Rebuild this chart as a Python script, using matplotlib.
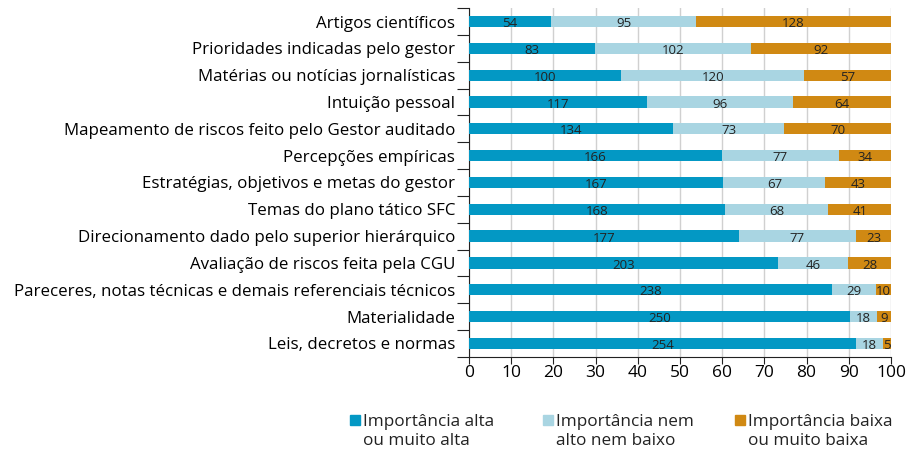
import matplotlib
matplotlib.use("Agg")
from matplotlib import pyplot as plt
from matplotlib.patches import Rectangle
import numpy as np

plt.rcParams['font.family'] = ['Open Sans', 'DejaVu Sans']

categorias = [
    "Artigos científicos",
    "Prioridades indicadas pelo gestor",
    "Matérias ou notícias jornalísticas",
    "Intuição pessoal",
    "Mapeamento de riscos feito pelo Gestor auditado",
    "Percepções empíricas",
    "Estratégias, objetivos e metas do gestor",
    "Temas do plano tático SFC",
    "Direcionamento dado pelo superior hierárquico",
    "Avaliação de riscos feita pela CGU",
    "Pareceres, notas técnicas e demais referenciais técnicos",
    "Materialidade",
    "Leis, decretos e normas",
]
alta = [54, 83, 100, 117, 134, 166, 167, 168, 177, 203, 238, 250, 254]
nem = [95, 102, 120, 96, 73, 77, 67, 68, 77, 46, 29, 18, 18]
baixa = [128, 92, 57, 64, 70, 34, 43, 41, 23, 28, 10, 9, 5]
series = [alta, nem, baixa]
nomes = ["Importância alta\nou muito alta",
         "Importância nem\nalto nem baixo",
         "Importância baixa\nou muito baixa"]
cores = ["#0398c4", "#a9d5e2", "#d08913"]

cont = np.array(series, dtype=float)
pct = cont / cont.sum(axis=0) * 100
y = np.arange(len(categorias))

fig = plt.figure(figsize=(9.11, 4.5), dpi=100)
ax = fig.add_axes([0.5148, 0.207, 0.4632, 0.775])

esq = np.zeros(len(categorias))
for k in range(3):
    ax.barh(y, pct[k], left=esq, height=0.42, color=cores[k], zorder=3)
    for i in range(len(categorias)):
        ax.text(esq[i] + pct[k][i] / 2, y[i] + 0.08, str(series[k][i]),
                ha='center', va='center', fontsize=9.5, color='#222222', zorder=4)
    esq += pct[k]

ax.set_xlim(0, 100)
ax.set_ylim(len(categorias) - 0.5, -0.5)
ax.set_xticks(np.arange(0, 101, 10))
ax.tick_params(axis='x', labelsize=12.5, length=5, color='#222222', pad=1)
ax.grid(axis='x', color='#d0d0d0', linewidth=1, zorder=0)

# rótulos no centro, ticks entre categorias
ax.set_yticks(np.arange(-0.5, len(categorias), 1))
ax.set_yticklabels([])
ax.set_yticks(y, minor=True)
ax.set_yticklabels(categorias, minor=True, fontsize=12.2)
ax.tick_params(axis='y', which='major', length=9, color='#222222')
ax.tick_params(axis='y', which='minor', length=0, pad=10)

for s in ['top', 'right']:
    ax.spines[s].set_visible(False)
for s in ['left', 'bottom']:
    ax.spines[s].set_color('#222222')

# legenda
leg_x = [0.384, 0.596, 0.807]
for c, nome, x0 in zip(cores, nomes, leg_x):
    fig.add_artist(Rectangle((x0, 0.056), 0.011, 0.022,
                             transform=fig.transFigure, color=c))
    fig.text(x0 + 0.014, 0.081, nome, ha='left', va='top', fontsize=12.3,
             color='#222222', linespacing=1.3)

fig.savefig("out.png", dpi=100)
